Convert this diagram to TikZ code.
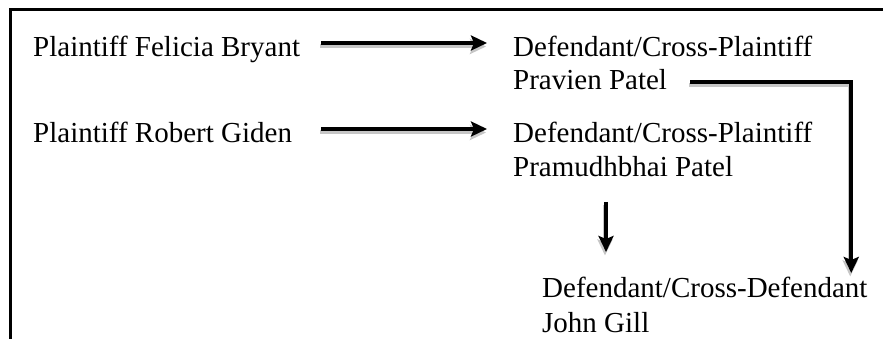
\documentclass[tikz,border=0pt]{standalone}
\usepackage{fontspec}
\setmainfont{Liberation Serif}
\usetikzlibrary{arrows.meta}
\tikzset{
  lbl/.style={anchor=base west, inner sep=0pt, font=\fontsize{29pt}{33pt}\selectfont},
  mainarr/.style={line width=4.5pt, -{Stealth[length=16pt,width=15pt,inset=3pt]}, black, line join=miter},
  shadarr/.style={line width=4pt, -{Stealth[length=16pt,width=15pt,inset=3pt]}, gray!45, line join=miter, transform canvas={shift={(-1pt,-3.5pt)}}},
  frameline/.style={line width=3pt, line join=miter}
}
\newcommand\sharrow[1]{\draw[shadarr] #1; \draw[mainarr] #1;}
\begin{document}
\begin{tikzpicture}[x=1pt,y=-1pt]
\useasboundingbox (0,0) rectangle (883,339);
\draw[frameline] (10.5,339) -- (10.5,9.5) -- (883,9.5);
\node[lbl] (pfb) at (33,57) {Plaintiff Felicia Bryant};
\node[lbl] (dcp1) at (513,57) {Defendant/Cross-Plaintiff};
\node[lbl] (pp) at (513,90) {Pravien Patel};
\node[lbl] (prg) at (33,143) {Plaintiff Robert Giden};
\node[lbl] (dcp2) at (513,143) {Defendant/Cross-Plaintiff};
\node[lbl] (pmp) at (513,177) {Pramudhbhai Patel};
\node[lbl] (dcd) at (542,297) {Defendant/Cross-Defendant};
\node[lbl] (jg) at (542,332) {John Gill};
\sharrow{([xshift=21pt,yshift=14pt]pfb.base east) -- ([xshift=-26pt,yshift=14pt]dcp1.base west)}
\sharrow{([xshift=29pt,yshift=14pt]prg.base east) -- ([xshift=-26pt,yshift=14pt]dcp2.base west)}
\sharrow{([xshift=23pt,yshift=8pt]pp.base east) -| ([xshift=-16.5pt,yshift=24pt]dcd.base east)}
\sharrow{([xshift=93pt,yshift=-25pt]pmp.base west) -- ([xshift=64pt,yshift=45pt]dcd.base west)}
\end{tikzpicture}
\end{document}
